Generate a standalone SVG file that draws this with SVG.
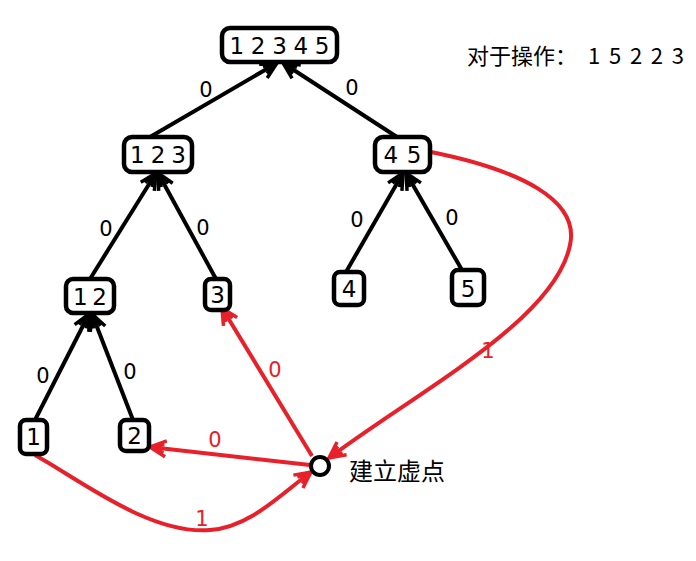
<svg xmlns="http://www.w3.org/2000/svg" width="696" height="561" viewBox="0 0 696 561">
<style>
.box{fill:#fff;stroke:#000;stroke-width:4.5}
.nt{font-family:"DejaVu Sans","Liberation Sans",sans-serif;font-size:23px;fill:#000;text-anchor:middle}
.lb{font-family:"DejaVu Sans","Liberation Sans",sans-serif;font-size:21px;fill:#000;text-anchor:middle}
.rl{font-family:"DejaVu Sans","Liberation Sans",sans-serif;font-size:21px;fill:#e8202a;text-anchor:middle}
.cj{font-family:"Noto Sans CJK SC","DejaVu Sans",sans-serif;font-size:22px;fill:#000}
.k{stroke:#000;stroke-width:4;fill:none}
.r{stroke:#e8202a;stroke-width:4;fill:none}
</style>
<defs>
<marker id="ak" viewBox="0 0 20 20" refX="18" refY="10" markerWidth="20" markerHeight="20" markerUnits="userSpaceOnUse" orient="auto">
<path d="M2,2 L18,10 L2,18 M4,6 L18,10 L4,14" stroke="#000" stroke-width="3.5" fill="none"/>
</marker>
<marker id="ar" viewBox="0 0 20 20" refX="18" refY="10" markerWidth="20" markerHeight="20" markerUnits="userSpaceOnUse" orient="auto">
<path d="M2,2 L18,10 L2,18 M4,6 L18,10 L4,14" stroke="#e8202a" stroke-width="3.5" fill="none"/>
</marker>
</defs>
<g id="connectors">
<line class="k" x1="150" y1="137" x2="277" y2="63" marker-end="url(#ak)"/>
<line class="k" x1="397" y1="137" x2="283" y2="63" marker-end="url(#ak)"/>
<line class="k" x1="90" y1="279" x2="156" y2="173" marker-end="url(#ak)"/>
<line class="k" x1="216" y1="279" x2="158" y2="173" marker-end="url(#ak)"/>
<line class="k" x1="346" y1="272" x2="403" y2="173" marker-end="url(#ak)"/>
<line class="k" x1="462" y1="270" x2="406" y2="173" marker-end="url(#ak)"/>
<line class="k" x1="35" y1="420" x2="89" y2="314" marker-end="url(#ak)"/>
<line class="k" x1="133" y1="420" x2="92" y2="314" marker-end="url(#ak)"/>
<line class="r" x1="312" y1="456" x2="222" y2="308" marker-end="url(#ar)"/>
<line class="r" x1="310" y1="465" x2="150" y2="447" marker-end="url(#ar)"/>
<path class="r" d="M431,152 C520,170 580,200 570,245 C555,320 420,390 329,458" marker-end="url(#ar)"/>
<path class="r" d="M35,455 C80,480 150,535 210,530 C250,527 280,495 311,472" marker-end="url(#ar)"/>
<text class="lb" x="206" y="97">0</text>
<text class="lb" x="352" y="95">0</text>
<text class="lb" x="106" y="236">0</text>
<text class="lb" x="203" y="235">0</text>
<text class="lb" x="357" y="227">0</text>
<text class="lb" x="452" y="225">0</text>
<text class="lb" x="43" y="383">0</text>
<text class="lb" x="130" y="379">0</text>
<text class="rl" x="275" y="377">0</text>
<text class="rl" x="215" y="447">0</text>
<text class="rl" x="488" y="358">1</text>
<text class="rl" x="202" y="526">1</text>
</g>
<g id="n12345"><rect class="box" x="222" y="28" width="115" height="34" rx="8"/><text class="nt" x="279.5" y="54" textLength="100">1 2 3 4 5</text></g>
<g id="n123"><rect class="box" x="124" y="137" width="68" height="35" rx="8"/><text class="nt" x="158" y="163" textLength="56">1 2 3</text></g>
<g id="n45"><rect class="box" x="375" y="137" width="55" height="35" rx="8"/><text class="nt" x="402.5" y="163" textLength="38">4 5</text></g>
<g id="n12"><rect class="box" x="66" y="279" width="48" height="34" rx="7"/><text class="nt" x="90" y="305" textLength="34">1 2</text></g>
<g id="n3"><rect class="box" x="205" y="279" width="25" height="31" rx="6"/><text class="nt" x="217.5" y="303">3</text></g>
<g id="n4"><rect class="box" x="334" y="272" width="30" height="33" rx="6"/><text class="nt" x="349" y="297">4</text></g>
<g id="n5"><rect class="box" x="452" y="270" width="32" height="35" rx="6"/><text class="nt" x="468" y="297">5</text></g>
<g id="n1"><rect class="box" x="20" y="420" width="27" height="34" rx="6"/><text class="nt" x="33.5" y="445">1</text></g>
<g id="n2"><rect class="box" x="120" y="420" width="29" height="31" rx="6"/><text class="nt" x="134.5" y="444">2</text></g>
<g id="virtual"><circle cx="320" cy="466" r="9" fill="#fff" stroke="#000" stroke-width="4"/><text class="cj" x="349" y="480" style="font-size:24px">建立虚点</text></g>
<g id="note"><text class="cj" x="467" y="64">对于操作：<tspan x="588" textLength="96" lengthAdjust="spacing">1 5 2 2 3</tspan></text></g>
</svg>
